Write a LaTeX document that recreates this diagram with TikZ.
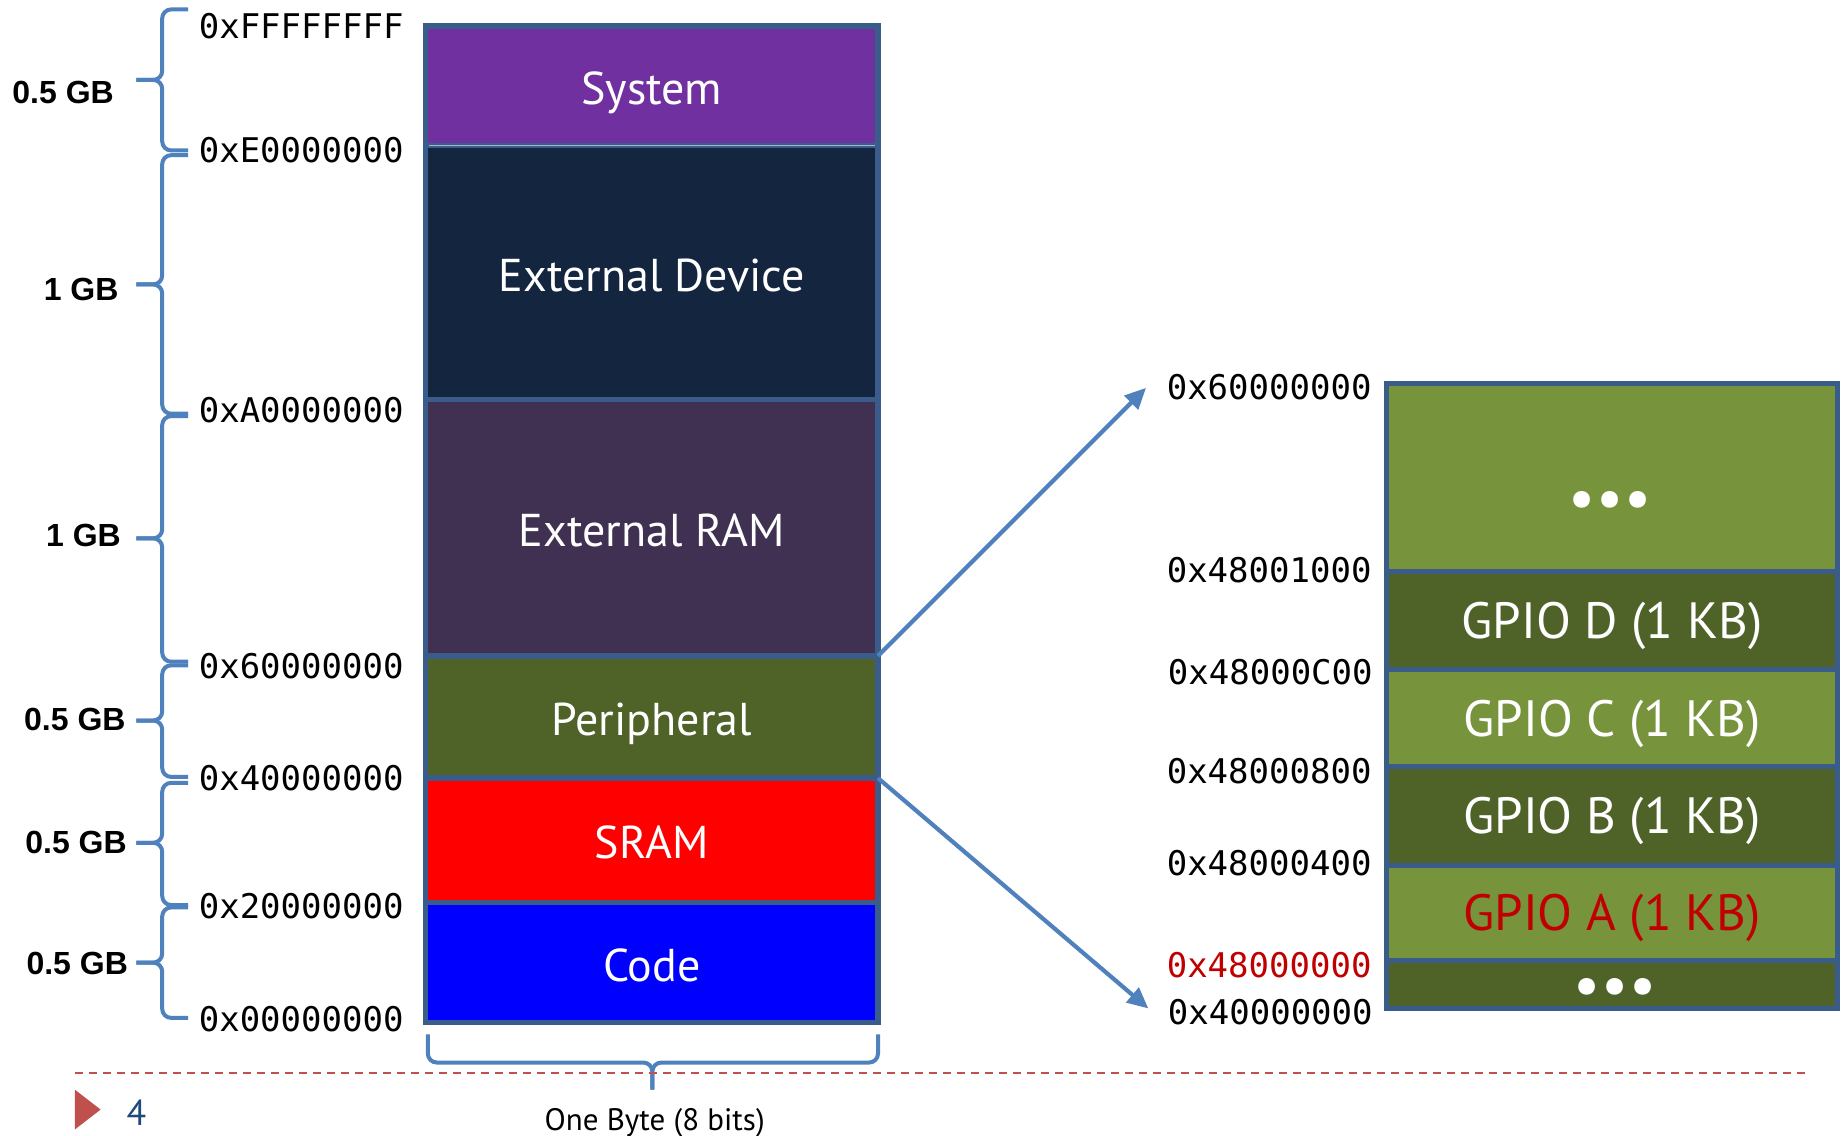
\documentclass[tikz,border=0pt]{standalone}
\usepackage{fontspec}
\setmainfont{PT Sans}
\newfontfamily\monof{DejaVu Sans Mono}
\newfontfamily\arialf{Liberation Sans}
\usetikzlibrary{arrows.meta}
\definecolor{bordc}{HTML}{3A5C8A}
\definecolor{bracec}{HTML}{4F81BD}
\definecolor{sysc}{HTML}{7030A0}
\definecolor{devc}{HTML}{13253F}
\definecolor{ramc}{HTML}{403152}
\definecolor{perc}{HTML}{4F6228}
\definecolor{litc}{HTML}{77933C}
\definecolor{darkred}{HTML}{C00000}
\definecolor{dashc}{HTML}{C0504D}
\definecolor{numc}{HTML}{1F497D}
\newcommand\gbbrace[3]{%
  \draw[brc] (160,#1) -- (138,#1) -- (138,#2) -- (116,#2);
  \draw[brc] (160,#3) -- (138,#3) -- (138,#2) -- (116,#2);}
\begin{document}
\begin{tikzpicture}[x=1.1754pt,y=-1.1754pt,
  seg/.style={draw=bordc, line width=5.5pt, minimum width=452.5pt, inner sep=0pt, outer sep=0pt,
    text=white, font=\fontsize{46}{50}\selectfont, text height=37pt, text depth=0pt},
  rseg/.style={seg, line width=5pt, minimum width=450.2pt, font=\fontsize{51}{54}\selectfont, text height=36pt},
  addr/.style={font=\monof\fontsize{34}{36}\selectfont, inner sep=0pt},
  gb/.style={font=\arialf\bfseries\fontsize{32}{34}\selectfont, inner sep=0pt, anchor=east},
  brc/.style={draw=bracec, line width=4pt, rounded corners=9pt},
  conn/.style={draw=bracec, line width=4.2pt, -{Triangle[length=21pt,width=19pt]}},
  dotsn/.style={text=white, font=\fontsize{60}{62}\selectfont, inner sep=0pt}
]
\useasboundingbox (0,0) rectangle (1568,966);

% left column
\node[seg, fill=sysc, minimum height=119.9pt] (sys) at (554.5,73) {System};
\node[seg, fill=devc, minimum height=253.9pt] (dev) at (554.5,232) {External Device};
\node[seg, fill=ramc, minimum height=256.2pt] (ram) at (554.5,449) {External RAM};
\node[seg, fill=perc, minimum height=122.2pt] (per) at (554.5,610) {Peripheral};
\node[seg, fill=red, minimum height=124.6pt] (sram) at (554.5,715) {SRAM};
\node[seg, fill=blue, minimum height=119.9pt] (code) at (554.5,819) {Code};
\draw[white!55!bordc, line width=0.9pt] ([xshift=3pt]sys.south west) -- ([xshift=-3pt]sys.south east);

% left addresses
\node[addr, anchor=west] (aF) at (169,22) {0xFFFFFFFF};
\node[addr, anchor=west] (aE) at (169,128) {0xE0000000};
\node[addr, anchor=west] (aA) at (169,349) {0xA0000000};
\node[addr, anchor=west] (a6) at (169,567) {0x60000000};
\node[addr, anchor=west] (a4) at (169,662) {0x40000000};
\node[addr, anchor=west] (a2) at (169,771) {0x20000000};
\node[addr, anchor=west] (a0) at (169,867) {0x00000000};

% braces
\gbbrace{8}{68}{128}
\gbbrace{132}{242}{352}
\gbbrace{354}{458}{563}
\gbbrace{566}{613}{661}
\gbbrace{666}{717}{770}
\gbbrace{772}{819}{866}
\node[gb] (g1) at (97,79) {0.5 GB};
\node[gb] (g2) at (101,246) {1 GB};
\node[gb] (g3) at (103,456) {1 GB};
\node[gb] (g4) at (107,612) {0.5 GB};
\node[gb] (g5) at (108,717) {0.5 GB};
\node[gb] (g6) at (109,820) {0.5 GB};

% bottom brace
\draw[brc] (364,880) -- (364,904) -- (555,904) -- (555,927);
\draw[brc] (747,880) -- (747,904) -- (555,904) -- (555,927);
\node[font=\fontsize{31}{33}\selectfont, inner sep=0pt] (byte) at (557,955) {One Byte (8 bits)};

% footer
\draw[dashc, line width=2pt, dash pattern=on 8pt off 6pt] (64,912.5) -- (1536,912.5);
\fill[dashc] (63.6,927) -- (85.6,944) -- (63.6,961) -- cycle;
\node[text=numc, font=\fontsize{36}{38}\selectfont, inner sep=0pt] (pg) at (116,947) {4};

% right column
\node[rseg, fill=litc, minimum height=188.1pt] (gtop) at (1371.5,406) {};
\node[rseg, fill=perc, minimum height=98.7pt] (gd) at (1371.5,528) {GPIO D (1 KB)};
\node[rseg, fill=litc, minimum height=96.4pt] (gc) at (1371.5,611) {GPIO C (1 KB)};
\node[rseg, fill=perc, minimum height=98.7pt] (gbk) at (1371.5,694) {GPIO B (1 KB)};
\node[rseg, fill=litc, minimum height=95.2pt, text=darkred] (ga) at (1371.5,776.5) {GPIO A (1 KB)};
\node[rseg, fill=perc, minimum height=48.2pt] (gbot) at (1371.5,837.5) {};
\node[dotsn] (dt) at (1370,430) {\textbullet\hspace{1pt}\textbullet\hspace{1pt}\textbullet};
\node[dotsn] (db) at (1374,844) {\textbullet\hspace{1pt}\textbullet\hspace{1pt}\textbullet};

% right addresses
\node[addr, anchor=east] (r6) at (1167,329) {0x60000000};
\node[addr, anchor=east] (r41) at (1167,485) {0x48001000};
\node[addr, anchor=east] (r4c) at (1168,572) {0x48000C00};
\node[addr, anchor=east] (r48) at (1167,656) {0x48000800};
\node[addr, anchor=east] (r44) at (1167,734) {0x48000400};
\node[addr, anchor=east, text=darkred] (r40) at (1167,821) {0x48000000};
\node[addr, anchor=east] (r4) at (1168,861) {0x40000000};

% connectors
\coordinate (t1) at (975,330);
\coordinate (t2) at (977,858);
\draw[conn] (per.north east) -- (t1);
\draw[conn] (sram.north east) -- (t2);
\end{tikzpicture}
\end{document}
